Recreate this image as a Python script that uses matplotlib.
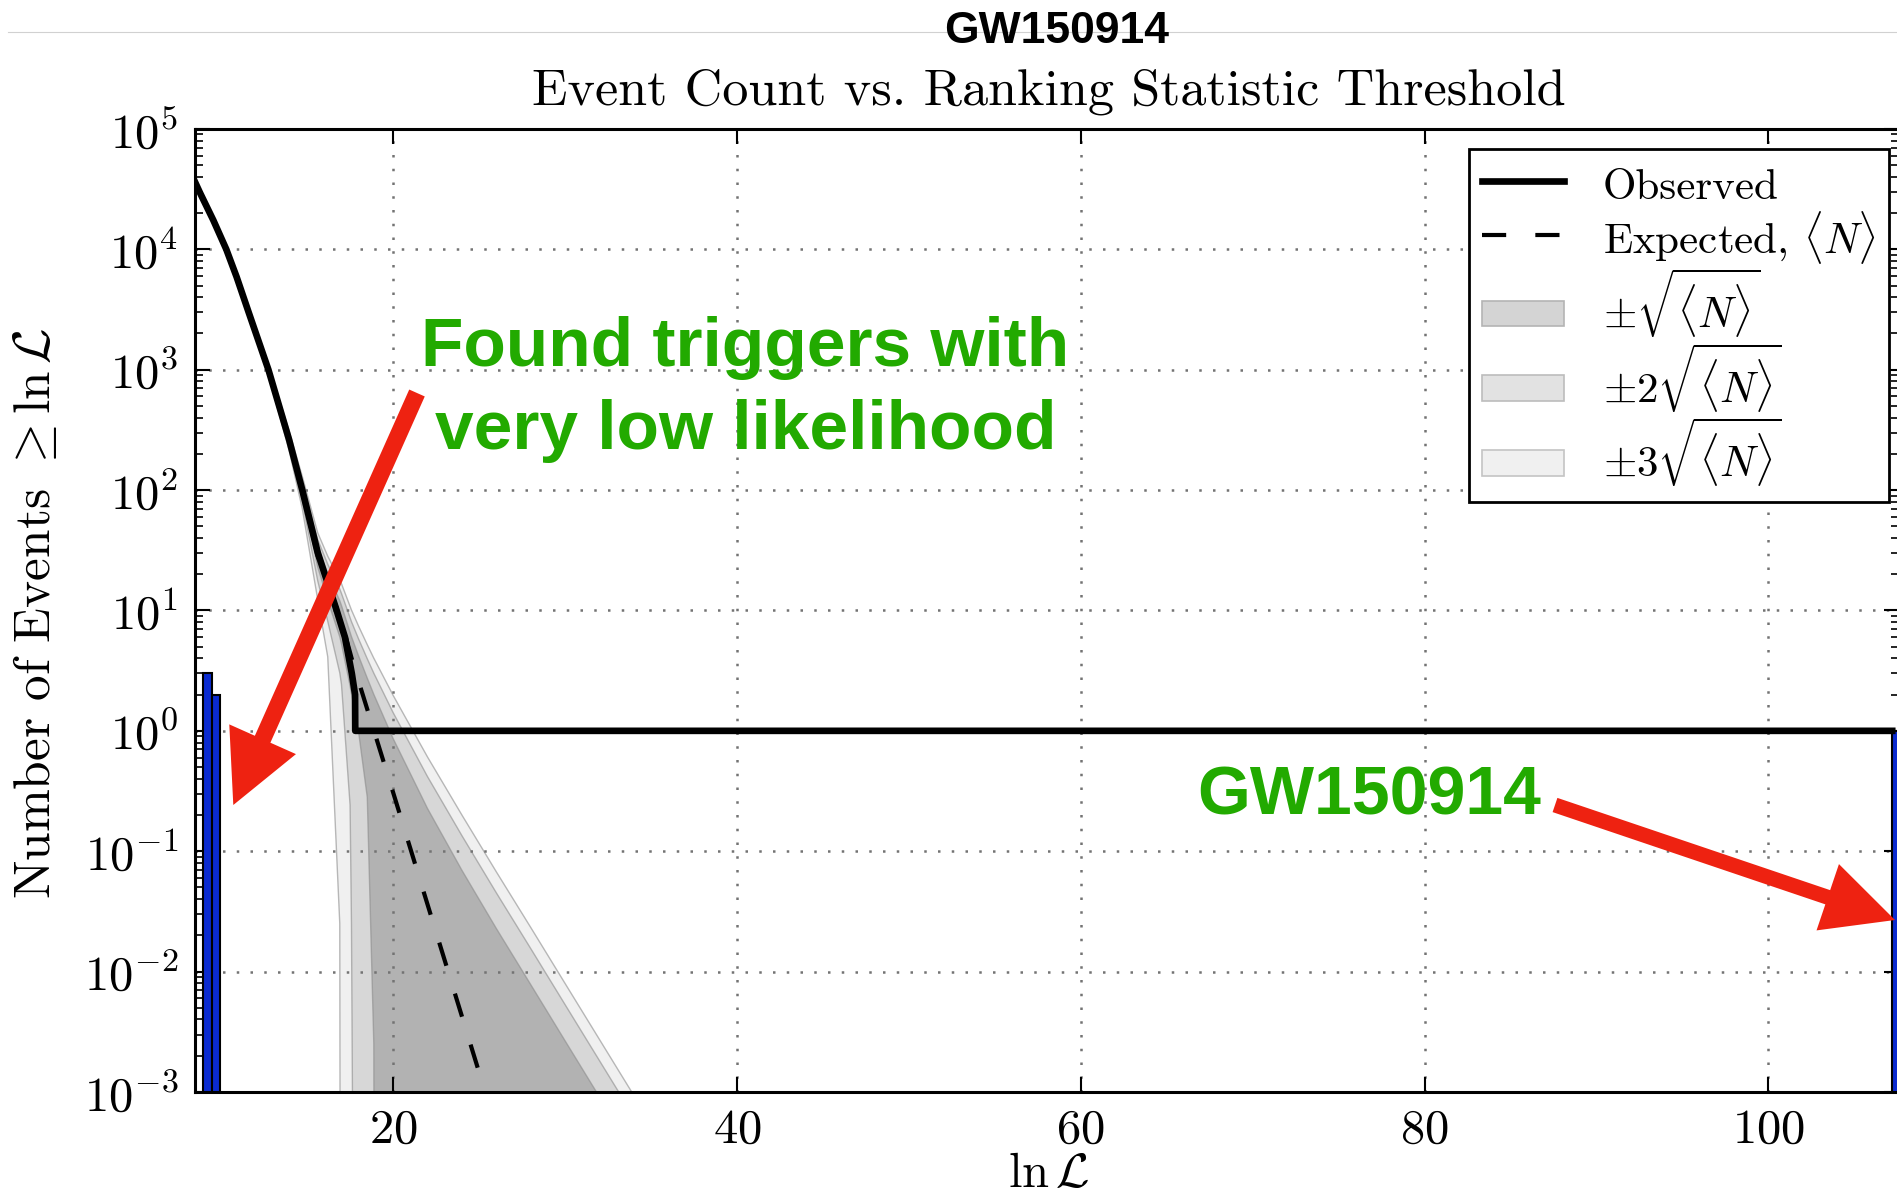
import numpy as np
import matplotlib
matplotlib.use('Agg')
import matplotlib.pyplot as plt
from matplotlib.lines import Line2D
from matplotlib.patches import Patch, FancyArrow, Rectangle
from matplotlib.legend_handler import HandlerPatch

plt.rcParams['font.family'] = 'cmr10'
plt.rcParams['mathtext.fontset'] = 'cm'
plt.rcParams['axes.formatter.use_mathtext'] = True

# observed cumulative count
obs_x = [8.48, 8.77, 9.55, 10.3, 10.9, 11.6, 12.75, 13.95, 14.72, 15.62, 16.72, 17.2, 17.6, 17.79, 17.8, 107.2]
obs_n = [3.63e4, 2.95e4, 1.74e4, 1.0e4, 5.9e3, 3.0e3, 1.0e3, 263, 100, 30.2, 10, 6, 3, 2, 1, 1]

# expected <N>
exp_x = [8.48, 9.55, 10.3, 10.9, 11.6, 12.75, 13.95, 14.72, 15.62, 16.2, 16.9, 17.0, 17.5, 17.58,
         18.0, 18.5, 18.88, 19.0, 20.0, 22.0, 24.0, 26.0, 28.0, 30.0, 32.0, 34.0, 36.0]
exp_n = [3.63e4, 1.74e4, 1.0e4, 5.9e3, 3.0e3, 1.0e3, 263, 100, 28.2, 16.2, 9.05, 8.13, 4.47, 4.05,
         2.57, 1.51, 1.005, 0.891, 0.309, 3.63e-2, 4.27e-3, 5.01e-4, 6.03e-5, 7.08e-6, 8.32e-7, 9.77e-8, 1.15e-8]

# found triggers histogram
found_x = [8.95, 9.45, 107.2]
found_n = [3, 2, 1]

xticks = [20, 40, 60, 80, 100]
legend_labels = ['Observed', r'Expected, $\langle N\rangle$', r'$\pm\sqrt{\langle N\rangle}$',
                 r'$\pm2\sqrt{\langle N\rangle}$', r'$\pm3\sqrt{\langle N\rangle}$']


def flat_rect(legend, orig_handle, xdescent, ydescent, width, height, fontsize):
    return Rectangle((-xdescent, -ydescent + 0.22 * height), width, 0.56 * height)


fig = plt.figure(figsize=(18.97, 12.01), dpi=100)
ax = fig.add_axes([0.1028, 0.0908, 0.8983, 0.8018])
ax.set_yscale('log')

x = np.array(exp_x)
n = np.array(exp_n)
for k, a in [(3, 0.06), (2, 0.10), (1, 0.17)]:
    lo = np.clip(n - k * np.sqrt(n), 1e-12, None)
    hi = n + k * np.sqrt(n)
    ax.fill_between(x, lo, hi, color='k', alpha=a, lw=0, zorder=1)
    ax.plot(x, lo, color='0.55', lw=1.0, alpha=0.6, zorder=1.2)
    ax.plot(x, hi, color='0.55', lw=1.0, alpha=0.6, zorder=1.2)

ax.plot(exp_x, exp_n, color='k', lw=3, linestyle=(0, (5.8, 7.0)), zorder=2)
ax.plot(obs_x, obs_n, color='k', lw=4.8, zorder=3, solid_joinstyle='round')
ax.bar(found_x, found_n, width=0.5, align='edge', color='#0b2bd0', edgecolor='k', lw=1.5, zorder=2.5)

ax.set_xlim(8.48, 107.6)
ax.set_ylim(1e-3, 1e5)
ax.set_xticks(xticks)
ax.grid(True, which='major', linestyle=(0, (1, 4.5)), color='0.45', lw=1.8)
ax.tick_params(which='both', direction='in', top=True, right=True, labelsize=35)
ax.tick_params(which='major', length=11, width=1.5, pad=12)
ax.tick_params(which='minor', length=6, width=1.2)
for s in ax.spines.values():
    s.set_linewidth(2.2)

handles = [Line2D([], [], color='k', lw=4.8),
           Line2D([], [], color='k', lw=3, linestyle=(0, (5.8, 7.0))),
           Patch(facecolor='#d4d4d4', edgecolor='#b4b4b4', lw=1.2),
           Patch(facecolor='#e2e2e2', edgecolor='#bcbcbc', lw=1.2),
           Patch(facecolor='#f0f0f0', edgecolor='#c4c4c4', lw=1.2)]
leg = ax.legend(handles, legend_labels, loc='upper right', bbox_to_anchor=(0.994, 0.979),
                fontsize=31, fancybox=False, edgecolor='k', framealpha=1,
                handlelength=1.9, handleheight=1.25, handletextpad=0.9, labelspacing=0.02,
                borderpad=0.3, borderaxespad=0,
                handler_map={Patch: HandlerPatch(patch_func=flat_rect)})
leg.get_frame().set_linewidth(2)

fig.text(0.019, 0.489, r'Number of Events $\geq \ln\mathcal{L}$', rotation=90,
         ha='center', va='center', fontsize=37)
fig.text(0.553, 0.022, r'$\ln\mathcal{L}$', ha='center', va='center', fontsize=35)
fig.text(0.553, 0.924, 'Event Count vs. Ranking Statistic Threshold', ha='center', va='center', fontsize=37.5)
fig.add_artist(Line2D([0.004, 1.0], [0.9734, 0.9734], transform=fig.transFigure, color='0.82', lw=0.8))
fig.text(0.557, 0.9734, 'GW150914', ha='center', va='center', fontsize=32,
         family=['Liberation Sans'], weight='bold')

# annotations
green = '#22aa00'
red = '#ee2211'
fig.text(0.393, 0.676, 'Found triggers with\nvery low likelihood', ha='center', va='center',
         fontsize=50, family=['Liberation Sans'], weight='bold', color=green, linespacing=1.38)
fig.text(0.722, 0.337, 'GW150914', ha='center', va='center', fontsize=49,
         family=['Liberation Sans'], weight='bold', color=green)

a1 = FancyArrow(4.17, 8.08, -1.837, -4.12, width=0.17, head_width=0.73, head_length=0.72,
                length_includes_head=True, color=red, lw=0, transform=fig.dpi_scale_trans)
a2 = FancyArrow(15.55, 3.96, 3.40, -1.15, width=0.15, head_width=0.70, head_length=0.71,
                length_includes_head=True, color=red, lw=0, transform=fig.dpi_scale_trans)
fig.add_artist(a1)
fig.add_artist(a2)

fig.savefig('out.png', dpi=100)
